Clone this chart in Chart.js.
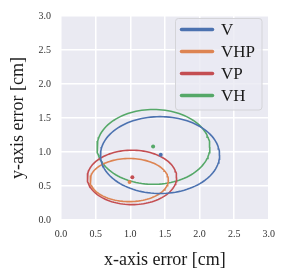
<!DOCTYPE html>
<html><head><meta charset="utf-8">
<script src="https://cdn.jsdelivr.net/npm/chart.js@4.4.0/dist/chart.umd.min.js"></script>
<style>html,body{margin:0;padding:0;background:#fff;}canvas{display:block;}</style>
</head><body>
<canvas id="c" width="283" height="277"></canvas>
<script>
const labels = ['V', 'VHP', 'VP', 'VH'];
const colors = ['#4C72B0', '#DD8452', '#C44E52', '#55A868'];
const meanX = [1.44, 0.99, 1.03, 1.33];
const meanY = [0.96, 0.56, 0.63, 1.08];
const ellCenterX = [1.43, 0.985, 1.025, 1.335];
const ellCenterY = [0.955, 0.587, 0.626, 1.075];
const ellRadX = [0.86, 0.565, 0.645, 0.815];
const ellRadY = [0.565, 0.317, 0.40, 0.55];
const tickValues = [0, 0.5, 1.0, 1.5, 2.0, 2.5, 3.0];
const xTitle = 'x-axis error [cm]';
const yTitle = 'y-axis error [cm]';

function ellipsePts(i) {
  const pts = [];
  const n = 120;
  for (let k = 0; k <= n; k++) {
    const t = 2 * Math.PI * k / n;
    pts.push({x: ellCenterX[i] + ellRadX[i] * Math.cos(t), y: ellCenterY[i] + ellRadY[i] * Math.sin(t)});
  }
  return pts;
}

const datasets = [];
labels.forEach((l, i) => {
  datasets.push({label: l, data: ellipsePts(i), showLine: true, borderColor: colors[i], borderWidth: 1.6, pointRadius: 0, fill: false, tension: 0});
  datasets.push({label: l + ' mean', data: [{x: meanX[i], y: meanY[i]}], showLine: false, backgroundColor: colors[i], borderColor: colors[i], pointRadius: 2, borderWidth: 0});
});

const SERIF = '"Liberation Serif", "DejaVu Serif", serif';

const bgPlugin = {
  id: 'bg',
  beforeDraw(chart) {
    const {ctx, chartArea: a} = chart;
    ctx.save();
    ctx.fillStyle = '#EAEAF2';
    ctx.fillRect(a.left, a.top, a.right - a.left, a.bottom - a.top);
    ctx.restore();
  },
  afterDraw(chart) {
    const {ctx, chartArea: a} = chart;
    ctx.save();
    ctx.fillStyle = '#1a1a1a';
    ctx.font = '18px ' + SERIF;
    ctx.textAlign = 'center';
    ctx.textBaseline = 'middle';
    ctx.fillText(xTitle, (a.left + a.right) / 2, 260);
    ctx.translate(18, (a.top + a.bottom) / 2);
    ctx.rotate(-Math.PI / 2);
    ctx.fillText(yTitle, 0, 0);
    ctx.restore();
    ctx.save();
    const bx = 175.5, by = 18.5, bw = 86.5, bh = 91.5, r = 3;
    ctx.beginPath();
    ctx.moveTo(bx + r, by);
    ctx.arcTo(bx + bw, by, bx + bw, by + bh, r);
    ctx.arcTo(bx + bw, by + bh, bx, by + bh, r);
    ctx.arcTo(bx, by + bh, bx, by, r);
    ctx.arcTo(bx, by, bx + bw, by, r);
    ctx.closePath();
    ctx.fillStyle = 'rgba(234,234,242,0.8)';
    ctx.fill();
    ctx.strokeStyle = '#D4D4D8';
    ctx.lineWidth = 1;
    ctx.stroke();
    const rows = [29.5, 51.5, 73.5, 95.5];
    ctx.font = '17px ' + SERIF;
    ctx.textAlign = 'left';
    ctx.textBaseline = 'middle';
    labels.forEach((l, i) => {
      ctx.beginPath();
      ctx.moveTo(181.5, rows[i]);
      ctx.lineTo(212.5, rows[i]);
      ctx.strokeStyle = colors[i];
      ctx.lineWidth = 3.5;
      ctx.lineCap = 'round';
      ctx.stroke();
      ctx.fillStyle = '#1a1a1a';
      ctx.fillText(l, 221, rows[i] + 1);
    });
    ctx.restore();
  }
};

const tickOpts = {
  font: {family: SERIF, size: 10},
  color: '#333333',
  callback: v => Number(v).toFixed(1)
};

new Chart(document.getElementById('c'), {
  type: 'scatter',
  data: {datasets},
  options: {
    responsive: false,
    animation: false,
    devicePixelRatio: 1,
    layout: {padding: {top: 11, right: 14, left: 0, bottom: 0}},
    plugins: {legend: {display: false}, tooltip: {enabled: false}},
    scales: {
      x: {
        type: 'linear', min: 0, max: 3,
        afterBuildTicks: s => { s.ticks = tickValues.map(v => ({value: v})); },
        afterFit: s => { s.height = 57; },
        grid: {color: '#FFFFFF', lineWidth: 1.5, drawTicks: false},
        border: {display: false},
        ticks: Object.assign({padding: 8}, tickOpts)
      },
      y: {
        type: 'linear', min: 0, max: 3,
        afterBuildTicks: s => { s.ticks = tickValues.map(v => ({value: v})); },
        afterFit: s => { s.width = 61; },
        grid: {color: '#FFFFFF', lineWidth: 1.5, drawTicks: false},
        border: {display: false},
        ticks: Object.assign({padding: 10}, tickOpts)
      }
    }
  },
  plugins: [bgPlugin]
});
</script>
</body></html>
